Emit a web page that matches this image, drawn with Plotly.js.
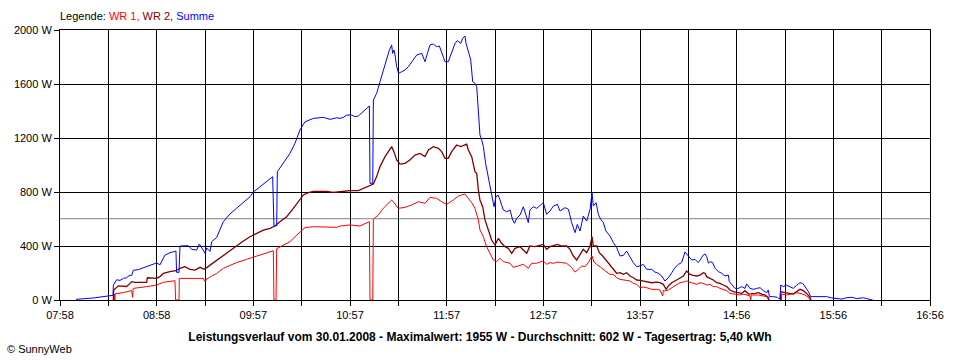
<!DOCTYPE html>
<html><head><meta charset="utf-8">
<script src="https://cdn.plot.ly/plotly-3.0.1.min.js"></script>
<style>html,body{margin:0;padding:0;background:#fff;}#chart{width:960px;height:360px;}</style>
</head><body><div id="chart"></div>
<script>
// time in minutes since midnight, power in W
const seriesNames = ["WR 1", "WR 2", "Summe"];
const seriesColors = ["#FF0000", "#800000", "#0000FF"];

const wr1 = [[511.4,0],[511.6,44],[511.9,0],[512.1,46],[517.2,55],[522.3,70],[522.9,20],[523.3,86],[531.6,99],[537.8,111],[541.9,131],[549.1,143],[549.5,0],[551.6,0],[551.8,160],[566.6,160],[567.7,136],[568.7,155],[571.8,178],[574.9,197],[579.0,235],[583.1,259],[587.2,277],[593.4,301],[597.6,316],[601.7,331],[605.8,351],[609.9,365],[610.3,0],[611.6,0],[612.0,380],[615.1,400],[620.2,432],[623.3,469],[626.4,506],[629.5,536],[634.7,543],[642.9,543],[649.1,538],
[651.2,548],[657.3,556],[663.5,548],[668.7,580],[669.3,580],[669.7,0],[671.4,0],[671.8,598],[674.9,630],[677.9,679],[681.0,721],[683.1,741],[685.2,711],[687.2,679],[691.3,686],[695.5,704],[699.6,728],[703.7,716],[706.8,760],[710.9,753],[714.0,728],[717.1,709],[721.2,741],[724.3,770],[728.4,785],[730.5,753],[732.6,721],[734.6,679],[736.7,593],[737.7,519],[739.8,469],[741.8,395],[743.9,346],[746.0,296],[748.0,284],[750.1,309],[752.1,284],[756.3,272],[758.3,242],[761.4,252],[764.5,264],[767.6,235],[769.7,272],[772.8,272],
[776.9,289],[778.9,264],[781.0,277],[783.1,272],[785.6,281],[788.2,277],[791.3,272],[794.4,240],[796.5,207],[798.5,227],[800.6,252],[802.7,247],[804.7,277],[807.0,326],[808.2,281],[809.9,264],[811.9,247],[814.0,227],[816.1,207],[818.1,190],[820.2,190],[822.2,165],[824.3,153],[826.4,148],[828.4,141],[830.5,141],[832.6,123],[834.6,116],[836.7,91],[838.7,96],[840.8,91],[843.9,79],[847.0,79],[849.0,74],[850.7,30],[851.1,70],[852.1,67],[854.2,74],[856.3,91],[859.3,116],[861.4,128],[863.5,133],[865.5,141],[868.6,128],[871.7,116],
[873.8,128],[875.8,123],[877.9,111],[880.0,116],[882.0,99],[884.1,99],[886.1,86],[888.2,79],[890.3,69],[892.3,49],[894.4,44],[896.5,37],[898.5,37],[900.6,44],[902.6,37],[904.7,30],[905.1,0],[905.5,37],[909.9,37],[913.0,30],[915.0,25],[916.2,0],[920.0,null],[924.1,0],[924.3,44],[927.4,37],[930.5,44],[933.6,54],[935.6,49],[938.7,37],[940.8,20],[941.8,0]];

const wr2 = [[511.0,0],[511.2,74],[514.1,105],[519.2,100],[521.3,123],[522.3,136],[524.4,131],[531.6,131],[532.0,165],[537.8,160],[539.8,173],[541.9,197],[546.0,210],[549.7,217],[552.2,235],[555.3,247],[558.4,227],[561.5,222],[564.6,242],[567.0,227],[568.7,240],[571.8,267],[574.9,296],[579.0,333],[583.1,370],[587.2,407],[591.4,437],[595.5,469],[599.6,494],[603.7,518],[607.9,531],[610.9,548],[614.0,580],[618.2,617],[622.3,679],[625.4,728],[628.5,778],[631.6,795],[634.7,805],[642.9,805],[647.0,797],
[651.2,802],[657.3,810],[662.5,810],[665.6,827],[669.7,852],[671.8,859],[673.8,914],[675.9,988],[679.0,1062],[681.7,1111],[683.1,1136],[684.5,1099],[686.2,1037],[688.3,1007],[691.3,1012],[694.4,1037],[697.5,1074],[700.6,1086],[703.7,1062],[705.8,1111],[708.9,1136],[712.0,1123],[714.0,1099],[716.1,1049],[718.1,1049],[720.2,1099],[723.3,1148],[725.8,1136],[729.5,1155],[730.5,1111],[732.6,1062],[734.6,950],[735.7,938],[736.7,815],[737.7,741],[739.4,691],[740.8,593],[742.9,519],[744.9,444],[747.0,407],[749.1,457],[751.1,420],[753.2,395],[755.2,383],[757.3,346],[759.4,383],[762.5,395],[764.5,370],[766.6,346],[768.6,400],[771.7,395],
[776.9,412],[778.9,375],[781.0,395],[783.1,405],[785.6,412],[788.2,400],[791.3,400],[793.4,375],[795.4,326],[797.5,296],[799.6,338],[801.6,375],[803.7,351],[805.8,400],[807.0,469],[807.8,400],[809.9,400],[811.5,351],[813.6,326],[816.1,289],[818.1,252],[820.2,227],[822.2,198],[824.3,202],[826.4,190],[828.4,202],[830.5,178],[832.6,165],[834.6,148],[836.7,146],[838.7,141],[840.8,133],[843.9,128],[847.0,133],[849.0,128],[851.1,116],[852.8,79],[854.2,104],[856.3,128],[859.3,148],[861.4,165],[863.5,178],[865.5,215],[867.6,190],[869.6,183],[871.7,178],
[873.8,185],[875.8,202],[876.9,198],[877.9,173],[880.0,160],[882.0,148],[884.1,128],[886.1,123],[888.2,111],[890.3,99],[892.3,74],[894.4,62],[897.5,54],[899.5,49],[901.6,69],[903.7,44],[907.8,49],[909.9,54],[911.9,44],[914.0,37],[916.0,20],[916.4,0],[920.0,null],[923.5,0],[923.7,62],[926.3,54],[928.4,49],[931.5,44],[933.6,62],[935.6,79],[937.7,69],[939.7,49],[941.8,20],[942.4,0]];

const summe = [[487.9,5],[498.6,15],[507.9,30],[510.8,35],[511.0,110],[512.0,130],[513.0,150],[515.1,145],[517.2,160],[519.2,165],[521.3,185],[522.3,180],[523.3,220],[526.4,225],[528.5,235],[532.0,250],[534.7,262],[537.8,275],[539.8,260],[542.9,333],[546.0,350],[549.7,363],[550.1,205],[551.6,205],[552.2,400],[557.4,402],[559.4,375],[562.5,370],[564.2,415],[565.6,388],[567.7,345],[568.7,385],[570.8,360],[571.8,432],[574.9,464],[579.0,580],[583.1,637],[587.2,680],[591.4,720],[595.5,765],[597.6,800],[601.7,840],[605.8,880],[609.5,913],[610.3,550],[612.0,550],[612.4,950],[616.1,1012],[620.2,1086],[623.3,1160],[626.4,1260],[629.5,1320],[634.7,1345],[640.8,1353],[645.0,1338],[649.1,1350],
[651.2,1345],[653.2,1353],[655.3,1370],[658.4,1370],[660.4,1358],[662.5,1363],[665.6,1395],[668.7,1427],[669.3,1437],[669.7,864],[671.4,864],[671.8,1481],[673.8,1531],[675.9,1617],[677.9,1704],[680.0,1778],[681.7,1852],[683.1,1889],[683.7,1827],[684.5,1852],[685.2,1815],[686.2,1728],[687.4,1679],[689.3,1691],[691.3,1704],[693.4,1728],[695.5,1765],[698.6,1815],[701.7,1827],[703.7,1765],[705.2,1827],[706.8,1889],[708.9,1896],[710.9,1876],[712.6,1881],[714.0,1827],[716.1,1765],[718.1,1765],[720.2,1827],[722.3,1901],[723.7,1921],[725.8,1901],[727.0,1938],[728.4,1955],[729.1,1901],[730.5,1840],[732.0,1778],[733.2,1617],[734.6,1605],[735.7,1580],[736.7,1383],[737.7,1222],[738.8,1185],[739.8,1136],[741.2,1012],[742.5,938],[743.9,840],[745.1,765],[746.4,691],[747.6,765],[748.9,778],[750.1,741],[752.1,667],[754.2,654],[756.3,667],[757.9,593],[759.0,568],[760.4,605],[762.5,630],[764.5,691],[766.6,617],[767.6,573],[768.6,667],[770.7,691],[772.8,679],
[776.9,721],[778.9,635],[781.0,659],[783.1,696],[785.6,709],[787.2,659],[790.3,684],[792.4,672],[794.4,573],[796.5,499],[797.9,560],[799.6,511],[801.6,622],[803.7,585],[805.8,672],[807.0,795],[807.8,696],[809.5,721],[810.9,635],[812.3,598],[814.0,573],[815.6,511],[818.1,474],[820.2,425],[822.2,388],[824.3,326],[826.4,331],[828.4,363],[830.5,314],[832.5,277],[834.6,247],[836.7,252],[838.7,264],[840.8,227],[843.9,227],[845.9,207],[848.0,198],[850.1,178],[852.1,140],[854.2,165],[856.3,202],[858.3,240],[860.4,264],[862.4,277],[864.5,356],[866.6,326],[868.6,296],[870.7,301],[872.7,277],
[873.8,296],[875.8,333],[876.9,341],[877.9,321],[879.0,272],[880.0,284],[881.6,277],[883.1,235],[885.1,210],[887.2,198],[889.2,178],[891.3,185],[891.9,136],[893.4,111],[895.4,86],[897.5,86],[899.5,99],[901.6,86],[902.6,119],[904.7,86],[906.8,79],[908.8,86],[910.9,91],[913.0,69],[915.0,54],[916.0,74],[916.7,25],[919.1,25],[921.6,20],[922.4,10],[923.2,10],[923.7,111],[925.3,99],[927.0,111],[929.0,99],[931.5,86],[933.6,111],[935.6,128],[937.3,123],[939.3,86],[940.8,62],[942.2,25],[944.9,25],[948.0,30],[952.1,25],[955.2,15],[958.3,12],[961.4,7],[964.5,17],[967.6,20],[970.7,10],[974.8,17],[976.8,10],[978.9,5],[980.6,0]];

const xTickLabels = ["07:58","","08:58","","09:57","","10:57","","11:57","","12:57","","13:57","","14:56","","15:56","","16:56"];
const xStart = 478, xEnd = 1016;
const yTickValues = [0, 400, 800, 1200, 1600, 2000];
const yTickLabels = ["0 W", "400 W", "800 W", "1200 W", "1600 W", "2000 W"];
const average = 602;
const titleText = "Leistungsverlauf vom 30.01.2008 - Maximalwert: 1955 W - Durchschnitt: 602 W - Tagesertrag: 5,40 kWh";
const legendText = "Legende: <span style='color:#FF0000'>WR 1,</span> <span style='color:#800000'>WR 2,</span> <span style='color:#0000FF'>Summe</span>";
const copyright = "© SunnyWeb";

const FONT = "Arial, 'Liberation Sans', sans-serif";
const allSeries = [wr1, wr2, summe];
const widths = [1, 1.3, 1];
const traces = allSeries.map((s, i) => ({
  type: "scatter", mode: "lines", name: seriesNames[i],
  x: s.map(p => p[0]), y: s.map(p => p[1]),
  line: {color: seriesColors[i], width: widths[i]},
  connectgaps: false, hoverinfo: "x+y+name"
}));

const tickVals = xTickLabels.map((_, i) => xStart + i * (xEnd - xStart) / (xTickLabels.length - 1));

const layout = {
  width: 960, height: 360,
  margin: {l: 60, r: 30, t: 30, b: 60},
  paper_bgcolor: "#ffffff", plot_bgcolor: "#ffffff",
  showlegend: false,
  font: {family: FONT, size: 11, color: "#000"},
  title: {text: "<b>" + titleText + "</b>", font: {family: FONT, size: 12, color: "#000"},
    xref: "container", x: 0.5, xanchor: "center", yref: "container", y: 1 - 337/360, yanchor: "middle"},
  xaxis: {range: [xStart, xEnd], tickmode: "array", tickvals: tickVals, ticktext: xTickLabels,
    showgrid: true, gridcolor: "#000", gridwidth: 1, zeroline: false,
    showline: true, linecolor: "#000", linewidth: 1, mirror: true,
    ticks: "outside", ticklen: 5, tickcolor: "#000", tickwidth: 1,
    tickfont: {family: FONT, size: 11, color: "#000"}, fixedrange: true},
  yaxis: {range: [0, 2000], tickmode: "array", tickvals: yTickValues, ticktext: yTickLabels,
    showgrid: true, gridcolor: "#000", gridwidth: 1, zeroline: false,
    showline: true, linecolor: "#000", linewidth: 1, mirror: true,
    ticks: "outside", ticklen: 5, tickcolor: "#000", tickwidth: 1,
    tickfont: {family: FONT, size: 11, color: "#000"}, fixedrange: true},
  shapes: [{type: "line", xref: "paper", x0: 0, x1: 1, yref: "y", y0: average, y1: average,
    line: {color: "#808080", width: 1}, layer: "between"}],
  annotations: [
    {text: legendText, xref: "paper", x: 0, xanchor: "left", yref: "paper", y: 1 + 13.5/270, yanchor: "middle",
      showarrow: false, font: {family: FONT, size: 11, color: "#000"}, xshift: -2},
    {text: copyright, xref: "paper", x: (5 - 60)/870, xanchor: "left", yref: "paper", y: (300 - 349)/270, yanchor: "middle",
      showarrow: false, font: {family: FONT, size: 11, color: "#000"}}
  ]
};

Plotly.newPlot("chart", traces, layout, {displayModeBar: false, staticPlot: true});
</script>
</body></html>
